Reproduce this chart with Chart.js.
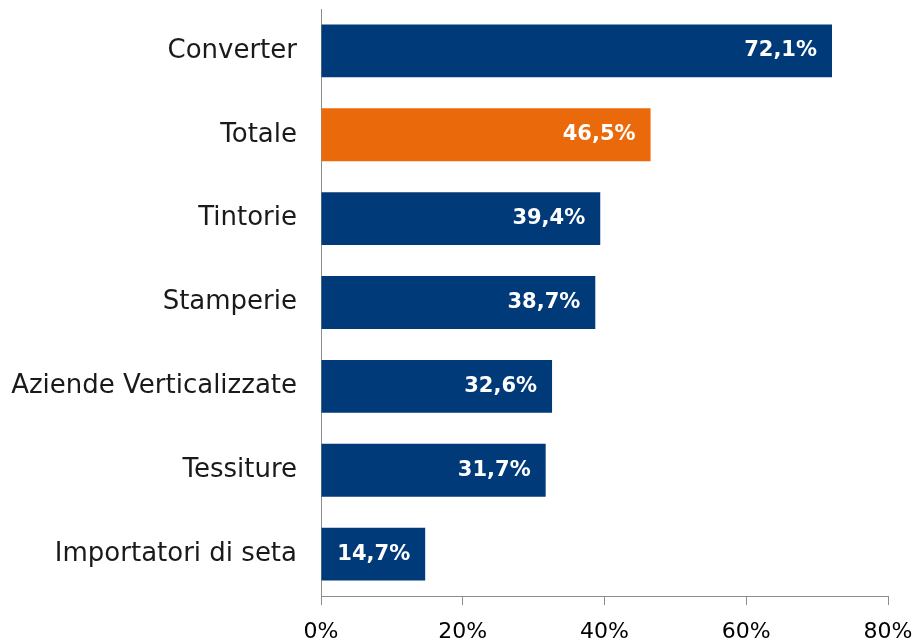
<!DOCTYPE html>
<html>
<head>
<meta charset="utf-8">
<script src="https://cdn.jsdelivr.net/npm/chart.js@4/dist/chart.umd.min.js"></script>
<style>
html,body{margin:0;padding:0;background:#fff;}
#wrap{width:916px;height:644px;position:relative;}
</style>
</head>
<body>
<div id="wrap"><canvas id="c" width="916" height="644"></canvas></div>
<script>
const categories = ["Converter","Totale","Tintorie","Stamperie","Aziende Verticalizzate","Tessiture","Importatori di seta"];
const values = [72.1,46.5,39.4,38.7,32.6,31.7,14.7];
const highlight = "Totale";
const xTicks = [0,20,40,60,80];

const NAVY = "#003A79";
const ORANGE = "#EA6A0B";
const FONT = "'DejaVu Sans', sans-serif";

const labelPlugin = {
  id: "barLabels",
  afterDatasetsDraw(chart) {
    const ctx = chart.ctx;
    const meta = chart.getDatasetMeta(0);
    ctx.save();
    ctx.fillStyle = "#ffffff";
    ctx.font = "bold 21px " + FONT;
    ctx.textAlign = "right";
    ctx.textBaseline = "middle";
    meta.data.forEach((bar, i) => {
      const txt = values[i].toFixed(1).replace(".", ",") + "%";
      ctx.fillText(txt, bar.x - 15, bar.y);
    });
    ctx.restore();
  }
};

new Chart(document.getElementById("c"), {
  type: "bar",
  data: {
    labels: categories,
    datasets: [{
      data: values,
      backgroundColor: categories.map(c => c === highlight ? ORANGE : NAVY),
      borderWidth: 0,
      barPercentage: 0.63,
      categoryPercentage: 1.0
    }]
  },
  options: {
    indexAxis: "y",
    responsive: false,
    animation: false,
    layout: { padding: { top: 9, right: 28, left: 0, bottom: 0 } },
    plugins: { legend: { display: false }, tooltip: { enabled: false } },
    scales: {
      x: {
        min: 0, max: 80,
        afterBuildTicks: s => { s.ticks = xTicks.map(v => ({ value: v })); },
        afterFit: s => { s.height = 48; s.paddingLeft = 0; s.paddingRight = 0; },
        ticks: {
          callback: v => v + "%",
          color: "#000",
          font: { family: FONT, size: 22 },
          padding: 14,
          maxRotation: 0
        },
        grid: { drawOnChartArea: false, drawTicks: true, tickLength: 9, color: "#8c8c8c", lineWidth: 1 },
        border: { display: true, color: "#8c8c8c", width: 1 }
      },
      y: {
        afterFit: s => { s.width = 321; s.paddingTop = 0; s.paddingBottom = 0; },
        ticks: {
          color: "#1a1a1a",
          font: { family: FONT, size: 26 },
          padding: 24
        },
        grid: { display: false, drawTicks: false },
        border: { display: true, color: "#8c8c8c", width: 1 }
      }
    }
  },
  plugins: [labelPlugin]
});
</script>
</body>
</html>
